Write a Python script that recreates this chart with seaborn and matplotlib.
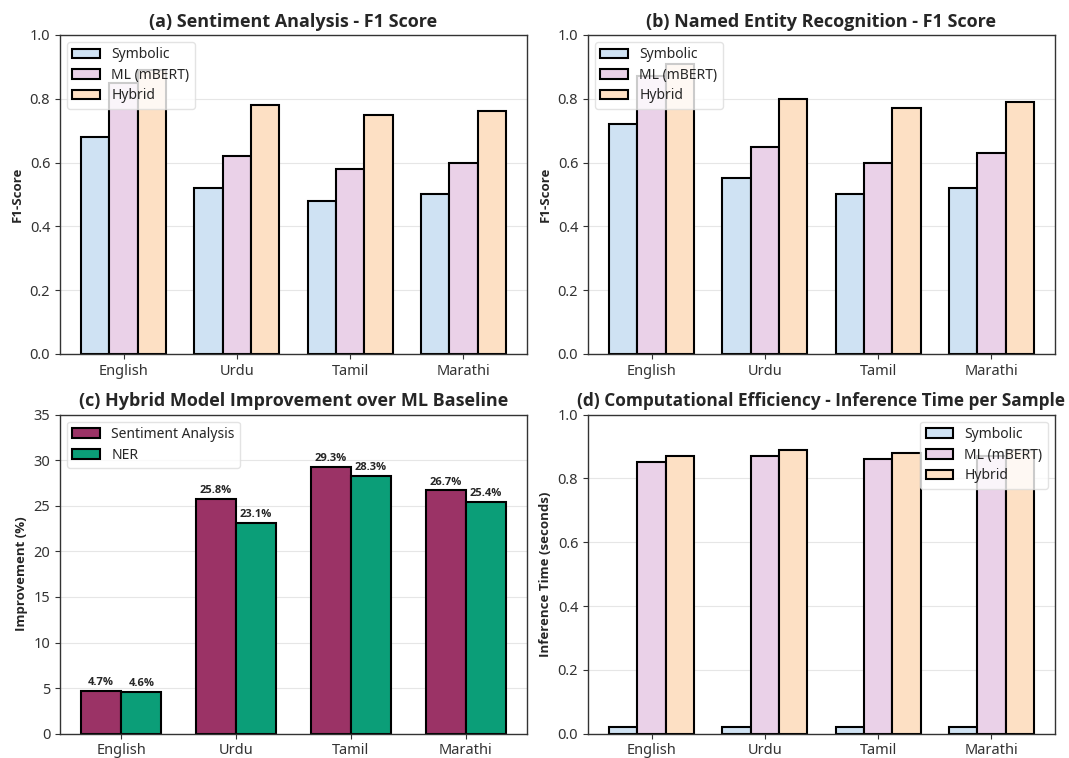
import matplotlib
matplotlib.use("Agg")
import matplotlib.pyplot as plt
from matplotlib import font_manager
import seaborn as sns
import pandas as pd

languages = ["English", "Urdu", "Tamil", "Marathi"]
models = ["Symbolic", "ML (mBERT)", "Hybrid"]

sa_symbolic = [0.68, 0.52, 0.48, 0.50]
sa_ml = [0.85, 0.62, 0.58, 0.60]
sa_hybrid = [0.89, 0.78, 0.75, 0.76]

ner_symbolic = [0.72, 0.55, 0.50, 0.52]
ner_ml = [0.87, 0.65, 0.60, 0.63]
ner_hybrid = [0.91, 0.80, 0.77, 0.79]

improve_sa = [4.7, 25.8, 29.3, 26.7]
improve_ner = [4.6, 23.1, 28.3, 25.4]

time_symbolic = [0.02, 0.02, 0.02, 0.02]
time_ml = [0.85, 0.87, 0.86, 0.87]
time_hybrid = [0.87, 0.89, 0.88, 0.89]

model_colors = ["#cfe2f3", "#ead1e8", "#fde0c4"]
task_colors = ["#9b3366", "#0b9e78"]

sns.set_style("ticks")
plt.rcParams["font.family"] = ["Noto Sans", "Open Sans", "DejaVu Sans"]


def find_bold():
    # a wide (non-condensed) bold face for titles and labels
    for fam in ("Noto Sans", "Open Sans"):
        for f in font_manager.fontManager.ttflist:
            w = f.weight if isinstance(f.weight, int) else 700 if "bold" in str(f.weight) else 400
            if f.name == fam and w >= 700 and f.stretch in ("normal", 500) \
                    and "ondensed" not in f.fname and "talic" not in f.fname:
                return font_manager.FontProperties(fname=f.fname)
    return font_manager.FontProperties(family="DejaVu Sans", weight="bold")


BOLD = find_bold()


def bold(size):
    fp = BOLD.copy()
    fp.set_size(size)
    return fp


def long_df(series, names):
    rows = []
    for name, vals in zip(names, series):
        for lang, v in zip(languages, vals):
            rows.append({"Language": lang, "Model": name, "Value": v})
    return pd.DataFrame(rows)


def style_ax(ax, title, ylabel, ylim, step, group_w, title_size=13):
    ax.set_title(title, fontproperties=bold(title_size), pad=6)
    ax.set_ylabel(ylabel, fontproperties=bold(9.5))
    ax.set_xlabel("")
    ax.set_ylim(*ylim)
    ax.set_yticks([ylim[0] + i * step for i in range(int(round((ylim[1] - ylim[0]) / step)) + 1)])
    # mimic matplotlib's default 5% x margin around the bar groups
    half = group_w / 2
    pad = 0.05 * (3 + group_w)
    ax.set_xlim(-half - pad, 3 + half + pad)
    ax.grid(axis="y", color="#e6e6e6", linewidth=0.8)
    ax.set_axisbelow(True)
    ax.tick_params(labelsize=10.5, colors="#333333")
    for s in ax.spines.values():
        s.set_color("#333333")
        s.set_linewidth(1.0)


def model_plot(ax, df, loc):
    sns.barplot(data=df, x="Language", y="Value", hue="Model", palette=model_colors,
                saturation=1, width=0.75, edgecolor="black", linewidth=1.5, ax=ax)
    ax.legend(loc=loc, fontsize=10, framealpha=0.8, edgecolor="#dddddd", labelspacing=0.4)


fig, axes = plt.subplots(2, 2, figsize=(10.69, 7.58), dpi=100)
plt.subplots_adjust(left=0.056, right=0.987, top=0.954, bottom=0.032, wspace=0.13, hspace=0.19)

ax = axes[0, 0]
model_plot(ax, long_df([sa_symbolic, sa_ml, sa_hybrid], models), "upper left")
style_ax(ax, "(a) Sentiment Analysis - F1 Score", "F1-Score", (0, 1.0), 0.2, 0.75)

ax = axes[0, 1]
model_plot(ax, long_df([ner_symbolic, ner_ml, ner_hybrid], models), "upper left")
style_ax(ax, "(b) Named Entity Recognition - F1 Score", "F1-Score", (0, 1.0), 0.2, 0.75)

ax = axes[1, 0]
df_imp = long_df([improve_sa, improve_ner], ["Sentiment Analysis", "NER"])
sns.barplot(data=df_imp, x="Language", y="Value", hue="Model", palette=task_colors,
            saturation=1, width=0.7, edgecolor="black", linewidth=1.5, ax=ax)
for cont in ax.containers:
    ax.bar_label(cont, labels=[f"{v:.1f}%" for v in cont.datavalues],
                 fontproperties=bold(8), padding=2)
ax.legend(loc="upper left", fontsize=10, framealpha=0.8, edgecolor="#dddddd", labelspacing=0.4)
style_ax(ax, "(c) Hybrid Model Improvement over ML Baseline", "Improvement (%)", (0, 35), 5, 0.7)

ax = axes[1, 1]
model_plot(ax, long_df([time_symbolic, time_ml, time_hybrid], models), "upper right")
style_ax(ax, "(d) Computational Efficiency - Inference Time per Sample",
         "Inference Time (seconds)", (0, 1.0), 0.2, 0.75, title_size=12.4)

plt.savefig("out.png", dpi=100)
plt.close()
